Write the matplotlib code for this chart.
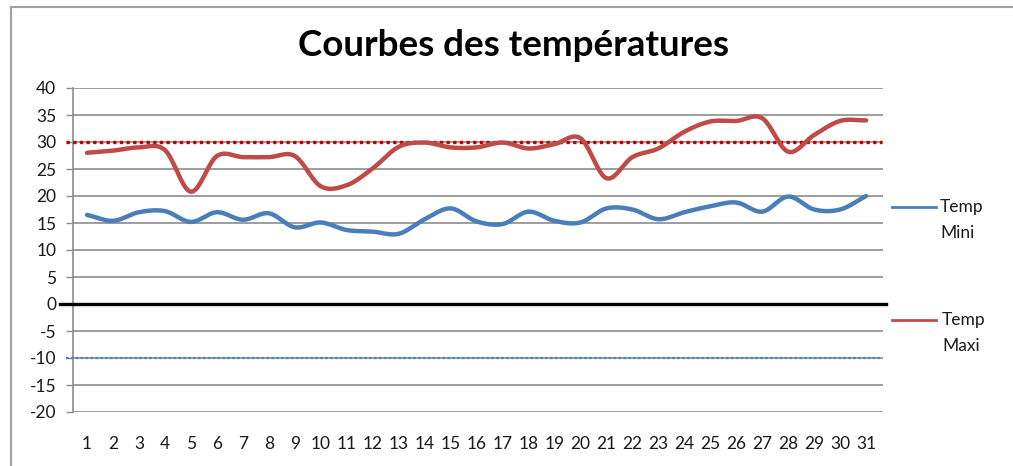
import numpy as np
import matplotlib
matplotlib.use("Agg")
import matplotlib.pyplot as plt
from matplotlib.lines import Line2D

days = list(range(1, 32))
temp_mini = [16.5, 15.4, 17.0, 17.2, 15.2, 17.0, 15.6, 16.8, 14.2, 15.1,
             13.7, 13.4, 13.0, 15.7, 17.7, 15.3, 14.8, 17.1, 15.4, 15.1,
             17.7, 17.5, 15.7, 17.0, 18.1, 18.8, 17.1, 19.9, 17.5, 17.5, 20.0]
temp_maxi = [28.0, 28.4, 29.0, 28.5, 20.8, 27.4, 27.2, 27.2, 27.4, 21.8,
             22.0, 25.1, 29.1, 29.9, 29.0, 29.0, 29.9, 28.8, 29.6, 30.7,
             23.3, 27.2, 28.8, 31.9, 33.8, 33.9, 34.4, 28.2, 31.3, 33.9, 34.0]
seuil_haut = 30
seuil_bas = -10
yticks = list(range(-20, 41, 5))
title = "Courbes des températures"
labels = ["Temp\nMini", "Temp\nMaxi"]

BLUE = "#4a7ebb"
RED = "#be4b48"

def smooth(x, y, n=20):
    x = np.asarray(x, float); y = np.asarray(y, float)
    px = np.concatenate([[2 * x[0] - x[1]], x, [2 * x[-1] - x[-2]]])
    py = np.concatenate([[2 * y[0] - y[1]], y, [2 * y[-1] - y[-2]]])
    xs, ys = [], []
    t = np.linspace(0, 1, n, endpoint=False)
    for i in range(1, len(px) - 2):
        f = lambda a0, a1, a2, a3: 0.5 * ((2 * a1) + (-a0 + a2) * t +
                                          (2 * a0 - 5 * a1 + 4 * a2 - a3) * t ** 2 +
                                          (-a0 + 3 * a1 - 3 * a2 + a3) * t ** 3)
        xs.append(f(px[i - 1], px[i], px[i + 1], px[i + 2]))
        ys.append(f(py[i - 1], py[i], py[i + 1], py[i + 2]))
    xs.append([x[-1]]); ys.append([y[-1]])
    return np.concatenate(xs), np.concatenate(ys)

plt.rcParams['font.family'] = ['Lato', 'DejaVu Sans']
W, H = 1013, 466
fig = plt.figure(figsize=(W / 100, H / 100), dpi=100)

# outer chart frame (top and left edges only visible)
fig.add_artist(Line2D([11 / W, 1.0], [1 - 7 / H, 1 - 7 / H], transform=fig.transFigure,
                      color="#a0a0a0", linewidth=1.5))
fig.add_artist(Line2D([11 / W, 11 / W], [0, 1 - 7 / H], transform=fig.transFigure,
                      color="#a0a0a0", linewidth=1.5))

ax = fig.add_axes([73 / W, 1 - 412 / H, (883 - 73) / W, 324 / H])
ax.set_xlim(0.46, 31.65)
ax.set_ylim(-20, 40)
for s in ["top", "right", "bottom"]:
    ax.spines[s].set_visible(False)
ax.spines["left"].set_color("#8c8c8c")
ax.spines["left"].set_linewidth(1.2)
ax.set_yticks(yticks)
ax.set_yticklabels([str(v) for v in yticks])
ax.tick_params(axis="y", length=5, width=1, color="#8c8c8c", labelsize=12.5, pad=7,
               labelcolor="#1a1a1a")
ax.set_xticks(days)
ax.set_xticklabels([str(d) for d in days])
ax.tick_params(axis="x", length=0, labelsize=12.5, pad=17, labelcolor="#1a1a1a")
for v in yticks:
    if v != 0:
        ax.axhline(v, color="#8c8c8c", linewidth=1.2, zorder=1)

ax.axhline(0, xmin=-13 / 810, xmax=(886 - 73) / 810, color="black", linewidth=2.4,
           zorder=3, clip_on=False)
ax.axhline(seuil_haut, xmin=-7 / 810, xmax=(882 - 73) / 810, color="#c00000",
           linewidth=2.4, linestyle=(0, (1, 1)), zorder=3, clip_on=False)
ax.axhline(seuil_bas, xmin=-7 / 810, xmax=(880 - 73) / 810, color="#4f81bd",
           linewidth=1.6, linestyle=(0, (1.2, 1)), zorder=3, clip_on=False)

sx, sy = smooth(days, temp_mini)
ax.plot(sx, sy, color=BLUE, linewidth=3.2, solid_capstyle="round", zorder=4)
sx, sy = smooth(days, temp_maxi)
ax.plot(sx, sy, color=RED, linewidth=3.2, solid_capstyle="round", zorder=4)

fig.text(514 / W, 1 - 46 / H, title, ha="center", va="center", fontsize=26.5,
         fontweight="bold", color="black")

# legend
for (ly, col, lab, tx) in [(207, BLUE, labels[0], 940), (320, RED, labels[1], 942)]:
    fig.add_artist(Line2D([892 / W, 936 / W], [1 - ly / H, 1 - ly / H],
                          transform=fig.transFigure, color=col, linewidth=2.0))
    t1, t2 = lab.split("\n")
    fig.text(tx / W, 1 - ly / H, t1, ha="left", va="center", fontsize=12.5, color="#1a1a1a")
    fig.text(tx / W, 1 - (ly + 26) / H, t2, ha="left", va="center", fontsize=12.5, color="#1a1a1a")

fig.savefig("out.png", dpi=100)
